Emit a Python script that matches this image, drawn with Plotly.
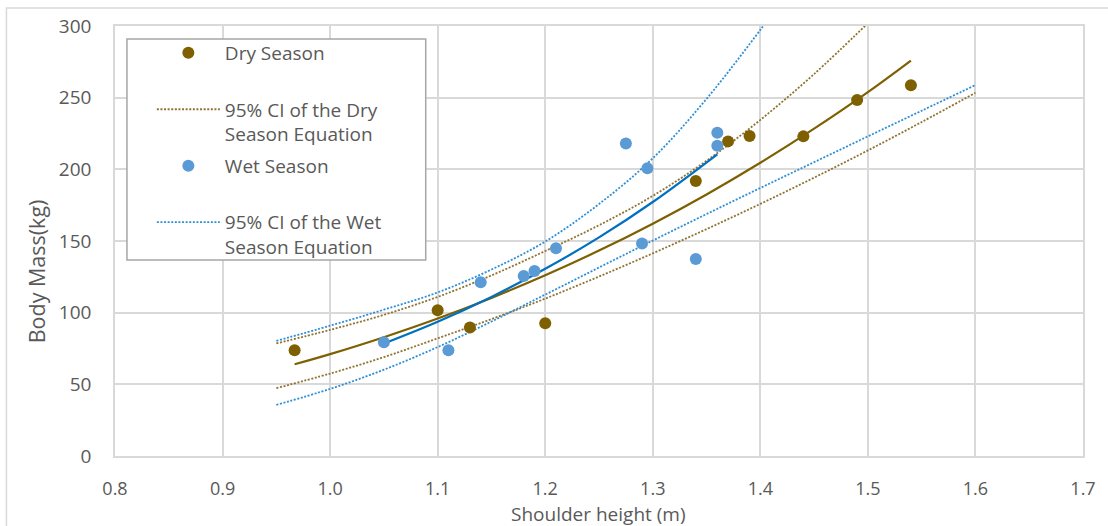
import plotly.graph_objects as go

# ---- data ----
dry_x = [0.967, 1.10, 1.13, 1.20, 1.34, 1.37, 1.39, 1.44, 1.49, 1.54]
dry_y = [73.7, 101.7, 89.7, 92.6, 191.8, 219.5, 223.2, 223.0, 248.3, 258.6]

wet_x = [1.05, 1.11, 1.14, 1.18, 1.19, 1.21, 1.275, 1.29, 1.295, 1.34, 1.36, 1.36]
wet_y = [79.3, 73.7, 121.2, 125.6, 129.1, 145.0, 218.0, 148.2, 200.8, 137.5, 216.4, 225.5]

# fitted curves
dry_fit_x = [0.967, 1.0, 1.05, 1.1, 1.15, 1.2, 1.25, 1.3, 1.35, 1.4, 1.45, 1.5, 1.54]
dry_fit_y = [64.0, 71.1, 82.9, 95.9, 110.3, 126.1, 143.3, 162.1, 182.5, 204.6, 228.4, 253.9, 275.9]

wet_fit_x = [1.05, 1.1, 1.15, 1.2, 1.25, 1.3, 1.36]
wet_fit_y = [78.5, 93.7, 111.0, 130.6, 152.5, 177.2, 210.5]

# 95% confidence bands
dry_ci_up_x = [0.95, 1.0, 1.05, 1.1, 1.15, 1.2, 1.25, 1.3, 1.35, 1.4, 1.45, 1.5]
dry_ci_up_y = [78.5, 88.0, 98.5, 111.0, 126.0, 143.0, 161.0, 181.5, 206.0, 234.5, 266.5, 302.0]

dry_ci_lo_x = [0.95, 1.0, 1.05, 1.1, 1.15, 1.2, 1.25, 1.3, 1.35, 1.4, 1.45, 1.5, 1.55, 1.6]
dry_ci_lo_y = [47.3, 57.5, 69.0, 82.1, 95.5, 109.8, 125.2, 141.4, 158.3, 175.9, 194.2, 213.2, 233.0, 253.4]

wet_ci_up_x = [0.95, 1.0, 1.05, 1.1, 1.15, 1.2, 1.25, 1.3, 1.35, 1.4, 1.41]
wet_ci_up_y = [80.3, 90.9, 102.1, 114.1, 130.1, 149.6, 175.8, 207.7, 249.2, 297.3, 307.6]

wet_ci_lo_x = [0.95, 1.0, 1.05, 1.1, 1.15, 1.2, 1.25, 1.3, 1.35, 1.4, 1.45, 1.5, 1.55, 1.6]
wet_ci_lo_y = [35.7, 46.8, 60.2, 76.0, 93.8, 112.6, 131.5, 150.3, 168.8, 187.0, 205.0, 223.0, 240.9, 258.8]

x_ticks = [0.8, 0.9, 1.0, 1.1, 1.2, 1.3, 1.4, 1.5, 1.6, 1.7]
y_ticks = [0, 50, 100, 150, 200, 250, 300]

# ---- styles ----
DRY = "#7F6000"
DRY_CI = "#8F7330"
WET_PT = "#5B9BD5"
WET_FIT = "#0070C0"
WET_CI = "#2E8FD6"
TXT = "#595959"
GRID = "#D9D9D9"
FONT = "Open Sans"
DOT = "2px,1.6px"

fig = go.Figure()

# CI bands
fig.add_trace(go.Scatter(x=dry_ci_up_x, y=dry_ci_up_y, mode="lines",
                         line=dict(color=DRY_CI, width=1.8, dash=DOT, shape="spline"),
                         name="95% CI of the Dry<br>Season Equation", legendrank=2,
                         legendgroup="g2"))
fig.add_trace(go.Scatter(x=dry_ci_lo_x, y=dry_ci_lo_y, mode="lines",
                         line=dict(color=DRY_CI, width=1.8, dash=DOT, shape="spline"),
                         showlegend=False, legendgroup="g2"))
fig.add_trace(go.Scatter(x=wet_ci_up_x, y=wet_ci_up_y, mode="lines",
                         line=dict(color=WET_CI, width=1.8, dash=DOT, shape="spline"),
                         name="95% CI of the Wet<br>Season Equation", legendrank=4,
                         legendgroup="g4"))
fig.add_trace(go.Scatter(x=wet_ci_lo_x, y=wet_ci_lo_y, mode="lines",
                         line=dict(color=WET_CI, width=1.8, dash=DOT, shape="spline"),
                         showlegend=False, legendgroup="g4"))

# fitted curves
fig.add_trace(go.Scatter(x=dry_fit_x, y=dry_fit_y, mode="lines",
                         line=dict(color=DRY, width=2.2, shape="spline"),
                         showlegend=False))
fig.add_trace(go.Scatter(x=wet_fit_x, y=wet_fit_y, mode="lines",
                         line=dict(color=WET_FIT, width=2.2, shape="spline"),
                         showlegend=False))

# points
fig.add_trace(go.Scatter(x=dry_x, y=dry_y, mode="markers",
                         marker=dict(color=DRY, size=12),
                         name="Dry Season<br>&nbsp;", legendrank=1, legendgroup="g1"))
fig.add_trace(go.Scatter(x=wet_x, y=wet_y, mode="markers",
                         marker=dict(color=WET_PT, size=12),
                         name="Wet Season<br>&nbsp;", legendrank=3, legendgroup="g3"))

# plot area pixel geometry: x 115..1087, y 26..456
def px_x(p):
    return (p - 115) / 972.0

def px_y(p):
    return (456 - p) / 430.0

shapes = [
    # outer chart border
    dict(type="rect", xref="paper", yref="paper",
         x0=px_x(6), x1=px_x(1140), y0=px_y(545), y1=px_y(8),
         line=dict(color=GRID, width=1.5), fillcolor="rgba(0,0,0,0)", layer="below"),
    # legend box
    dict(type="rect", xref="paper", yref="paper",
         x0=px_x(127), x1=px_x(427), y0=px_y(260), y1=px_y(39),
         line=dict(color="#A6A6A6", width=1.5), fillcolor="white", layer="above"),
]

annotations = [
    dict(text="Shoulder height (m)", xref="paper", yref="paper",
         x=px_x(600), y=px_y(513.5), showarrow=False,
         font=dict(family=FONT, size=19, color=TXT), xanchor="center", yanchor="middle"),
    dict(text="Body Mass(kg)", xref="paper", yref="paper",
         x=px_x(36), y=px_y(271), showarrow=False, textangle=-90,
         font=dict(family=FONT, size=21.5, color=TXT), xanchor="center", yanchor="middle"),
]

fig.update_layout(
    width=1108, height=526,
    margin=dict(l=115, r=21, t=26, b=70),
    paper_bgcolor="white", plot_bgcolor="white",
    font=dict(family=FONT, size=18, color=TXT),
    shapes=shapes, annotations=annotations,
    legend=dict(x=px_x(152), y=px_y(34), xanchor="left", yanchor="top",
                bgcolor="rgba(0,0,0,0)", borderwidth=0, itemwidth=63,
                valign="top", tracegroupgap=4,
                font=dict(family=FONT, size=19, color=TXT), traceorder="grouped"),
    xaxis=dict(range=[0.8, 1.7], tickvals=x_ticks, ticktext=[f"{v:.1f}" for v in x_ticks],
               showgrid=True, gridcolor=GRID, gridwidth=1.5,
               showline=True, linecolor=GRID, linewidth=1.5, mirror=True,
               zeroline=False, ticks="", ticklabelstandoff=16,
               tickfont=dict(family=FONT, size=18, color=TXT)),
    yaxis=dict(range=[0, 300], tickvals=y_ticks,
               showgrid=True, gridcolor=GRID, gridwidth=1.5,
               showline=True, linecolor=GRID, linewidth=1.5, mirror=True,
               zeroline=False, ticks="", ticklabelstandoff=18,
               tickfont=dict(family=FONT, size=19, color=TXT)),
)

fig.write_html("out.html")
